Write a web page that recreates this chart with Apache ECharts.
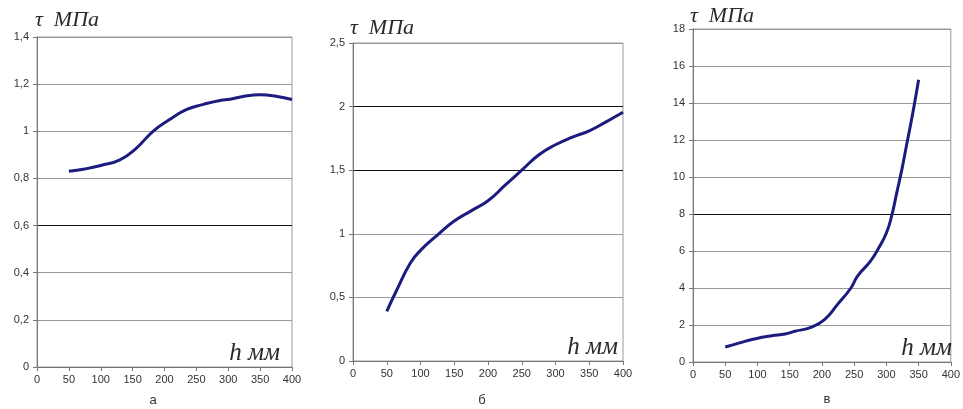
<!DOCTYPE html>
<html>
<head>
<meta charset="utf-8">
<script src="https://cdn.jsdelivr.net/npm/echarts@6/dist/echarts.min.js"></script>
<style>
  html, body { margin: 0; padding: 0; background: #fff; }
  #chart { width: 963px; height: 409px; }
</style>
</head>
<body>
<div id="chart"></div>
<script>
// chart а
var hA   = [50, 75, 100, 130, 156, 182, 208, 235, 261, 287, 303, 325, 350, 375, 400];
var tauA = [0.83, 0.84, 0.855, 0.879, 0.929, 1.0, 1.05, 1.093, 1.114, 1.131, 1.136, 1.149, 1.155, 1.149, 1.135];
// chart б
var hB   = [50, 65, 85, 100, 125, 150, 175, 200, 225, 250, 275, 300, 325, 350, 375, 400];
var tauB = [0.39, 0.56, 0.77, 0.87, 0.99, 1.10, 1.18, 1.26, 1.38, 1.50, 1.62, 1.70, 1.76, 1.81, 1.88, 1.955];
// chart в
var hC   = [50, 71, 97, 122, 143, 158, 183, 204, 224, 245, 255, 275, 288, 300, 308, 316, 324, 331, 341, 350];
var tauC = [0.81, 1.02, 1.26, 1.42, 1.51, 1.66, 1.87, 2.29, 3.1, 4.0, 4.63, 5.44, 6.16, 6.97, 7.87, 9.13, 10.4, 11.66, 13.46, 15.26];

var subLabels = ['а', 'б', 'в'];
var yName = 'τ  МПа';
var xName = 'h мм';

var chart = echarts.init(document.getElementById('chart'));

function pairs(xs, ys) {
	var out = [];
	for (var i = 0; i < xs.length; i++) out.push([xs[i], ys[i]]);
	return out;
}

var grey = '#9a9a9a';
var labelFont = { color: '#333', fontSize: 11, fontFamily: 'Liberation Sans' };

function xAxis(idx) {
	return {
		type: 'value', gridIndex: idx, min: 0, max: 400, interval: 50,
		axisLine: { lineStyle: { color: '#777' } },
		axisTick: { length: 4, lineStyle: { color: '#777' } },
		axisLabel: Object.assign({ margin: 7 }, labelFont),
		splitLine: { show: false }
	};
}

function yAxis(idx, max, step, gridColors) {
	return {
		type: 'value', gridIndex: idx, min: 0, max: max, interval: step,
		axisLine: { show: true, lineStyle: { color: '#777' } },
		axisTick: { show: true, length: 4, lineStyle: { color: '#777' } },
		axisLabel: Object.assign({ margin: 8, formatter: function (v) { return String(v).replace('.', ','); } }, labelFont),
		splitLine: { show: true, lineStyle: { color: gridColors, width: 1.2 } }
	};
}

function lineSeries(idx, data) {
	return {
		type: 'line', xAxisIndex: idx, yAxisIndex: idx, data: data,
		smooth: 0.5, showSymbol: false, symbol: 'none', silent: true,
		lineStyle: { color: '#1c1c7e', width: 3 }
	};
}

var g = grey, k = '#111';

// y is the top of the text box
function txt(x, y, s, size, align, italic) {
	return {
		type: 'text', x: x, y: y, silent: true,
		style: {
			text: s, x: 0, y: 0,
			fill: italic ? '#2a2a2a' : '#333',
			font: (italic ? 'italic ' : '') + size + 'px ' + (italic ? '"Liberation Serif"' : '"Liberation Sans"'),
			align: align, verticalAlign: 'top'
		}
	};
}

var option = {
	animation: false,
	backgroundColor: '#fff',
	grid: [
		{ left: 37, right: 671, top: 37, bottom: 42, show: true, borderColor: grey, borderWidth: 1 },
		{ left: 353, right: 340, top: 43, bottom: 48, show: true, borderColor: grey, borderWidth: 1 },
		{ left: 693, right: 8, top: 29, bottom: 47, show: true, borderColor: grey, borderWidth: 1 }
	],
	xAxis: [xAxis(0), xAxis(1), xAxis(2)],
	yAxis: [
		yAxis(0, 1.4, 0.2, [g, g, g, k, g, g, g, g]),
		yAxis(1, 2.5, 0.5, [g, g, g, k, k, g]),
		yAxis(2, 18, 2, [g, g, g, g, k, g, g, g, g, g])
	],
	series: [
		lineSeries(0, pairs(hA, tauA)),
		lineSeries(1, pairs(hB, tauB)),
		lineSeries(2, pairs(hC, tauC))
	],
	graphic: [
		txt(35, 9, yName, 22, 'left', true),
		txt(350, 17, yName, 22, 'left', true),
		txt(690, 5, yName, 22, 'left', true),
		txt(280, 341, xName, 25, 'right', true),
		txt(618, 335, xName, 25, 'right', true),
		txt(952, 336, xName, 25, 'right', true),
		txt(153, 394, subLabels[0], 13, 'center', false),
		txt(482, 394, subLabels[1], 13, 'center', false),
		txt(827, 393, subLabels[2], 13, 'center', false)
	]
};

chart.setOption(option);
</script>
</body>
</html>
